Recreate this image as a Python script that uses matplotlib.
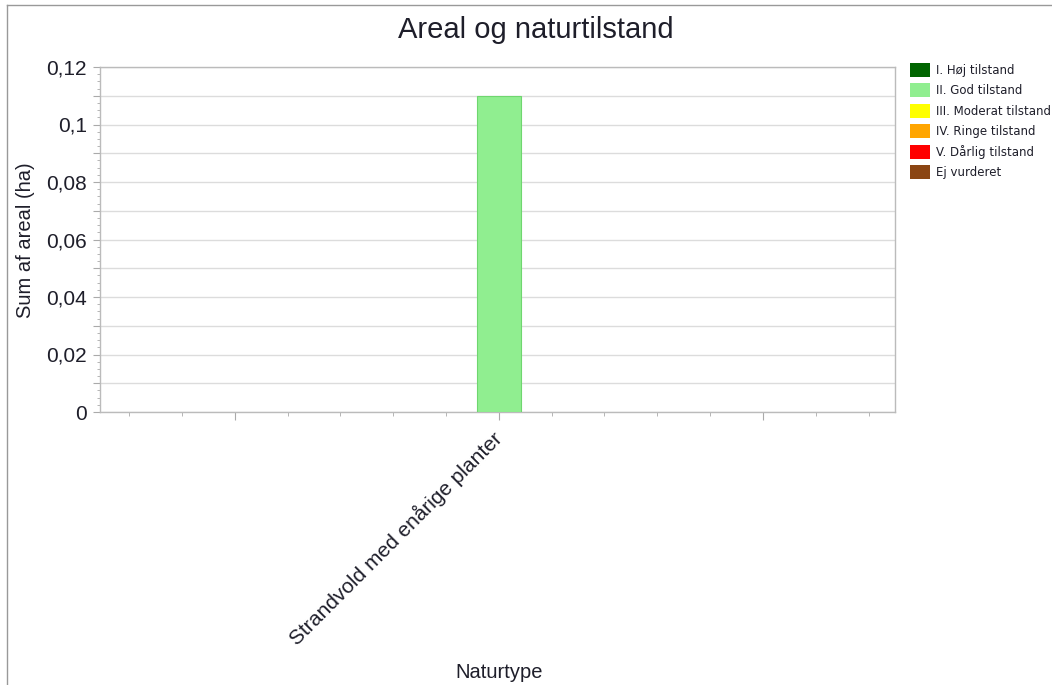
import matplotlib
matplotlib.use("Agg")
import matplotlib.pyplot as plt
from matplotlib.ticker import MultipleLocator, FuncFormatter, FixedLocator
from matplotlib.patches import Patch
from matplotlib.lines import Line2D

categories = ["Strandvold med enårige planter"]
series_names = ["I. Høj tilstand", "II. God tilstand", "III. Moderat tilstand",
                "IV. Ringe tilstand", "V. Dårlig tilstand", "Ej vurderet"]
series_values = [[0.0], [0.11], [0.0], [0.0], [0.0], [0.0]]
series_colors = ["#006400", "#90EE90", "#FFFF00", "#FFA500", "#FF0000", "#8B4513"]
edge_colors = ["#004d00", "#6fd66f", "#cccc00", "#cc8400", "#cc0000", "#6b350f"]

TXT = '#1e1e2a'
plt.rcParams['font.family'] = ['Liberation Sans', 'DejaVu Sans']

fig = plt.figure(figsize=(10.52, 6.85), dpi=100)
ax = fig.add_axes([100/1052, 1-412/685, 795/1052, 345/685])

x = list(range(len(categories)))
for name, vals, col, ec in zip(series_names, series_values, series_colors, edge_colors):
    for xi, v in zip(x, vals):
        if v > 0:
            ax.bar(xi, v, width=0.167, color=col, edgecolor=ec, linewidth=0.8, zorder=3)

ax.set_xlim(-1.51, 1.5)
ax.set_ylim(0, 0.12)
ax.set_yticks([i * 0.01 for i in range(13)], minor=False)
ax.yaxis.set_minor_locator(MultipleLocator(0.0025))
ax.yaxis.set_major_formatter(FuncFormatter(
    lambda v, p: ("%g" % round(v, 4)).replace('.', ',') if round(v * 100) % 2 == 0 else ""))
ax.grid(axis='y', which='major', color='#dcdcdc', linewidth=1, zorder=0)

ax.xaxis.set_major_locator(FixedLocator([-1, 0, 1]))
ax.xaxis.set_minor_locator(MultipleLocator(0.2))
ax.set_xticklabels(["", categories[0], ""], rotation=45, ha='right', va='center',
                   rotation_mode='anchor', fontsize=15, color=TXT)
ax.tick_params(axis='x', which='major', length=6, color='#aaaaaa', pad=11)
ax.tick_params(axis='x', which='minor', length=3, color='#aaaaaa')
ax.tick_params(axis='y', which='major', length=5, color='#aaaaaa', labelsize=15,
               labelcolor=TXT, pad=4.5)
ax.tick_params(axis='y', which='minor', length=2.5, color='#aaaaaa')
for s in ax.spines.values():
    s.set_color('#bbbbbb')
    s.set_linewidth(1)

ax.set_ylabel("Sum af areal (ha)", fontsize=14.5, color=TXT)
ax.yaxis.set_label_coords(26/1052, 1 - 240/685, transform=fig.transFigure)
ax.yaxis.label.set_va('center')
ax.set_xlabel("Naturtype", fontsize=14.5, color=TXT)
ax.xaxis.set_label_coords(499/1052, 1 - 673/685, transform=fig.transFigure)
ax.xaxis.label.set_va('center')
fig.text(536/1052, 1 - 30/685, "Areal og naturtilstand", ha='center', va='center',
         fontsize=21, color=TXT)

handles = [Patch(facecolor=c, edgecolor='none') for c in series_colors]
leg = fig.legend(handles, series_names, loc='upper left', bbox_to_anchor=(905/1052, 1 - 58/685),
                 frameon=False, fontsize=8.5, handlelength=1.75, handleheight=1.45,
                 labelspacing=0.55, handletextpad=0.45, borderaxespad=0)
for t in leg.get_texts():
    t.set_family(['DejaVu Sans'])
    t.set_color(TXT)

fig.add_artist(Line2D([7/1052, 7/1052], [0, 1 - 5/685], transform=fig.transFigure, color='#999999', linewidth=1))
fig.add_artist(Line2D([7/1052, 1], [1 - 5/685, 1 - 5/685], transform=fig.transFigure, color='#999999', linewidth=1))

fig.savefig("out.png", dpi=100)
